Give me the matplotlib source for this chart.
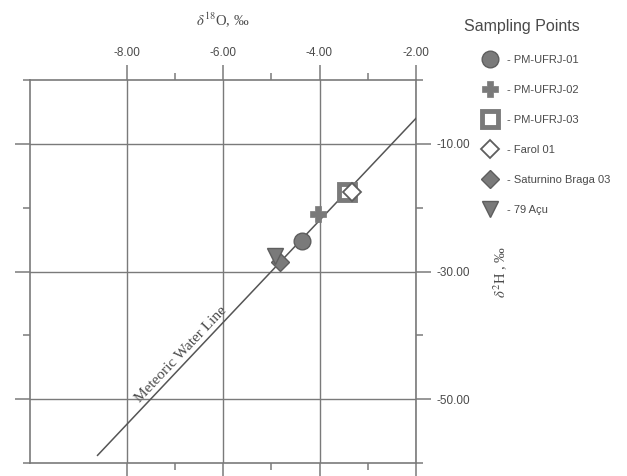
import matplotlib.pyplot as plt
from matplotlib.lines import Line2D
from matplotlib.ticker import FixedLocator

plt.rcParams['mathtext.fontset'] = 'stix'

# sampling points (delta 18O, delta 2H)
names = ["PM-UFRJ-01", "PM-UFRJ-02", "PM-UFRJ-03", "Farol 01",
         "Saturnino Braga 03", "79 Açu"]
d18o = [-4.36, -4.03, -3.43, -3.33, -4.82, -4.92]
d2h = [-25.2, -21.0, -17.6, -17.6, -28.5, -27.5]

# meteoric water line end points
mwl_x = [-8.6, -2.0]
mwl_y = [-58.8, -6.0]

x_major = [-8, -6, -4, -2]
x_minor = [-7, -5, -3]
y_major = [-10, -30, -50]
y_minor = [0, -20, -40, -60]

grey = '#7a7a7a'
edge = '#5e5e5e'
txt = '#4a4a4a'
styles = [
    dict(marker='o', ms=12, mfc=grey, mec=edge, mew=1),
    dict(marker='P', ms=12, mfc=grey, mec=grey, mew=0.5),
    dict(marker='s', ms=11, mfc='white', mec=grey, mew=3.5),
    dict(marker='D', ms=9, mfc='white', mec=edge, mew=1.3),
    dict(marker='D', ms=9, mfc=grey, mec=edge, mew=1),
    dict(marker='v', ms=12, mfc=grey, mec=edge, mew=1),
]

fig = plt.figure(figsize=(6.27, 4.76), dpi=100)
ax = fig.add_axes([30 / 627, 1 - 463 / 476, 386 / 627, 383 / 476])
ax.set_xlim(-10, -2)
ax.set_ylim(-60, 0)

ax.xaxis.set_major_locator(FixedLocator(x_major))
ax.xaxis.set_minor_locator(FixedLocator(x_minor))
ax.yaxis.set_major_locator(FixedLocator(y_major))
ax.yaxis.set_minor_locator(FixedLocator(y_minor))
ax.xaxis.set_major_formatter(lambda v, p: f"{v:.2f}")
ax.yaxis.set_major_formatter(lambda v, p: f"{v:.2f}")

ax.tick_params(which='both', direction='out', top=True, bottom=True,
               left=True, right=True, labeltop=True, labelbottom=False,
               labelleft=False, labelright=True, color=grey, width=1.1,
               labelcolor=txt, labelsize=8.5)
ax.tick_params(which='major', length=11, pad=4)
ax.tick_params(which='minor', length=5)
for lab in ax.get_xticklabels() + ax.get_yticklabels():
    lab.set_family('Liberation Sans')

for s in ax.spines.values():
    s.set_color(grey)
    s.set_linewidth(1.2)
ax.grid(which='major', color=grey, lw=1)
ax.set_axisbelow(True)

ax.plot(mwl_x, mwl_y, color='#555555', lw=1.1, zorder=3)
ax.text(-6.87, -43.0, "Meteoric Water Line", rotation=82.87,
        transform_rotates_text=True, rotation_mode='anchor',
        ha='center', va='center', family='Liberation Serif',
        fontsize=11, color=txt)

for i in range(len(names)):
    ax.plot(d18o[i], d2h[i], linestyle='none', zorder=4, **styles[i])

ax.xaxis.set_label_position('top')
ax.set_xlabel(r"$\delta^{18}$O, ‰", family='Liberation Serif',
              fontsize=10.5, color=txt, labelpad=16)
ax.yaxis.set_label_position('right')
ax.set_ylabel(r"$\delta^{2}$H , ‰", family='Liberation Serif',
              fontsize=10.5, color=txt, labelpad=15, rotation=90)

handles = [Line2D([], [], linestyle='none', **styles[i]) for i in range(len(names))]
labels = ["- " + n for n in names]
leg = fig.legend(handles, labels, loc='upper left',
                 bbox_to_anchor=(481 / 627, 1 - 55 / 476), frameon=False,
                 prop={'family': 'Liberation Sans', 'size': 8},
                 labelspacing=1.8, handletextpad=0.75, handlelength=1.6,
                 borderpad=0, borderaxespad=0)
for t in leg.get_texts():
    t.set_color(txt)
fig.text(522 / 627, 1 - 27 / 476, "Sampling Points", ha='center', va='center',
         family='Liberation Sans', fontsize=11.5, color=txt)

fig.savefig('out.png', dpi=100)
